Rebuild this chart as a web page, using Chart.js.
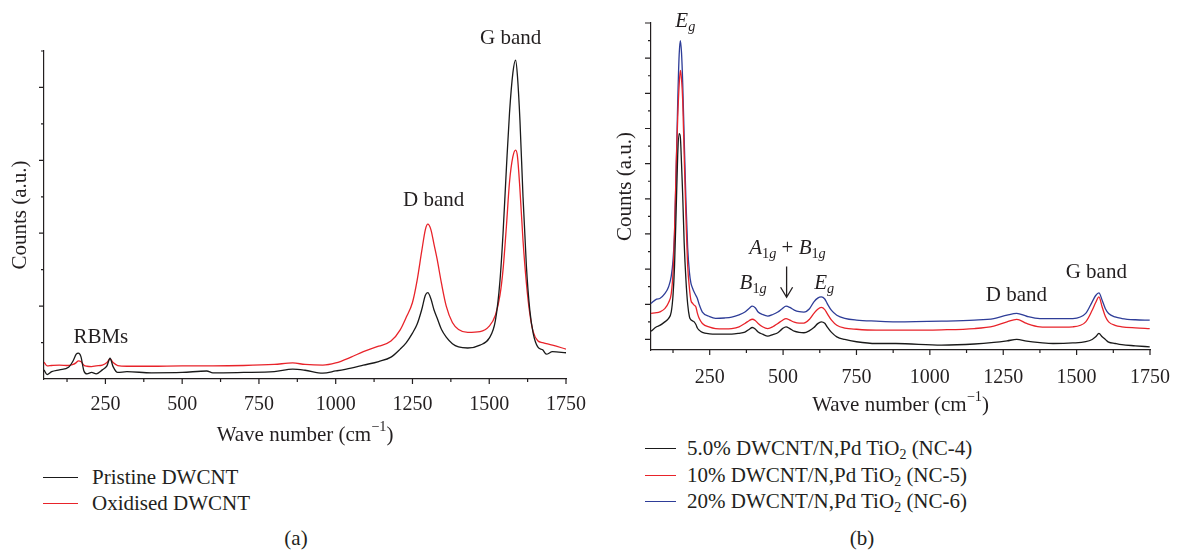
<!DOCTYPE html>
<html>
<head>
<meta charset="utf-8">
<script src="https://cdn.jsdelivr.net/npm/chart.js@4.4.0/dist/chart.umd.min.js"></script>
<style>
  body { margin: 0; background: #fff; width: 1186px; height: 551px; position: relative; overflow: hidden;
         font-family: "Liberation Serif", serif; color: #231f20; }
  canvas { position: absolute; top: 0; }
  .row { position: absolute; height: 26px; line-height: 26px; font-size: 21px; white-space: nowrap; }
  .row i { position: absolute; top: 13px; height: 0; border-top: 1.4px solid; }
  .row span { position: absolute; }
  .cap { position: absolute; font-size: 21px; transform: translate(-50%, -50%); }
</style>
</head>
<body>
<canvas id="chartA" width="600" height="460" style="left:0"></canvas>
<canvas id="chartB" width="586" height="420" style="left:600px"></canvas>
<div class="cap" style="left:296px; top:538px">(a)</div>
<div class="cap" style="left:862px; top:538px">(b)</div>
<script>
// panel (a): Raman spectra of DWCNT
var waveA = [50, 60, 75, 100, 130, 145, 155, 162, 170, 180, 190, 205, 220, 240, 255, 265, 275, 290, 320,
  400, 500, 580, 600, 700, 800, 860, 900, 958, 1000, 1050, 1090, 1140, 1180, 1210, 1230, 1250, 1265, 1280,
  1292, 1300, 1310, 1320, 1330, 1345, 1360, 1380, 1400, 1430, 1470, 1500, 1520, 1535, 1545, 1556, 1566,
  1577, 1586, 1592, 1600, 1610, 1621, 1632, 1643, 1658, 1674, 1686, 1706, 1750];
var pristine = [0.25, 0.12, 0.2, 0.25, 0.32, 0.5, 0.68, 0.71, 0.62, 0.22, 0.14, 0.18, 0.14, 0.25, 0.36, 0.57,
  0.34, 0.18, 0.2, 0.17, 0.18, 0.22, 0.17, 0.18, 0.2, 0.27, 0.24, 0.16, 0.22, 0.3, 0.38, 0.48, 0.6, 0.82,
  1.0, 1.26, 1.5, 1.9, 2.3, 2.37, 2.2, 1.9, 1.68, 1.35, 1.15, 0.97, 0.88, 0.85, 0.93, 1.12, 1.6, 2.7, 4.0,
  5.8, 7.3, 8.4, 8.75, 8.3, 7.1, 5.0, 3.1, 1.9, 1.26, 0.88, 0.8, 0.68, 0.75, 0.72];
var oxidised = [0.46, 0.36, 0.37, 0.38, 0.37, 0.4, 0.45, 0.5, 0.48, 0.38, 0.35, 0.34, 0.36, 0.38, 0.45, 0.55,
  0.45, 0.37, 0.35, 0.35, 0.36, 0.36, 0.36, 0.37, 0.4, 0.44, 0.4, 0.38, 0.44, 0.6, 0.75, 0.9, 1.04, 1.35,
  1.7, 2.1, 2.7, 3.5, 4.1, 4.25, 4.1, 3.7, 3.3, 2.6, 2.0, 1.55, 1.36, 1.28, 1.3, 1.45, 1.75, 2.3, 3.0, 4.2,
  5.4, 6.1, 6.28, 6.1, 5.2, 3.8, 2.63, 1.8, 1.3, 1.05, 1.0, 0.97, 0.93, 0.82];
var namesA = ['Pristine DWCNT', 'Oxidised DWCNT'];
var colorsA = ['#1a1a1a', '#e8232a'];

// panel (b): DWCNT/N,Pd TiO2 nanocomposites
var waveB = [50, 69, 80, 97, 110, 119, 125, 130, 136, 141, 146, 150, 154, 158, 163, 169, 175, 181, 186, 192,
  197, 203, 208, 214, 225, 250, 270, 300, 325, 350, 370, 385, 395, 405, 415, 430, 448, 465, 482, 497, 510,
  523, 538, 555, 571, 590, 605, 618, 630, 642, 650, 665, 683, 710, 750, 817, 884, 1040, 1152, 1218, 1263,
  1296, 1330, 1375, 1420, 1487, 1531, 1553, 1565, 1576, 1587, 1598, 1609, 1631, 1654, 1700, 1749];
var nc4 = [0.47, 0.72, 0.8, 1.0, 1.2, 1.57, 2.5, 4.1, 7.5, 10.5, 11.7, 11.5, 10.0, 8.2, 5.5, 3.4, 2.0, 1.28,
  1.12, 1.05, 1.0, 0.85, 0.65, 0.53, 0.4, 0.32, 0.3, 0.3, 0.3, 0.35, 0.42, 0.58, 0.68, 0.6, 0.42, 0.3, 0.19,
  0.28, 0.38, 0.6, 0.72, 0.62, 0.47, 0.4, 0.38, 0.5, 0.68, 0.9, 1.0, 0.92, 0.72, 0.4, 0.15, 0.0, -0.13,
  -0.23, -0.23, -0.32, -0.26, -0.17, -0.08, 0.0, -0.1, -0.18, -0.23, -0.2, -0.13, 0.0, 0.15, 0.34, 0.15,
  0.0, -0.15, -0.23, -0.3, -0.36, -0.42];
var nc5 = [1.48, 1.52, 1.57, 1.75, 2.1, 2.61, 3.8, 6.0, 10.0, 12.6, 14.5, 15.3, 14.8, 13.6, 10.5, 7.0, 4.2,
  2.9, 2.23, 2.05, 1.95, 1.85, 1.5, 1.2, 0.91, 0.7, 0.62, 0.6, 0.62, 0.72, 0.91, 1.08, 1.15, 1.08, 0.91,
  0.72, 0.62, 0.72, 0.91, 1.08, 1.19, 1.1, 0.98, 0.93, 0.93, 1.15, 1.48, 1.72, 1.82, 1.7, 1.48, 1.1, 0.81,
  0.65, 0.58, 0.53, 0.53, 0.55, 0.62, 0.76, 1.0, 1.14, 0.91, 0.72, 0.7, 0.72, 1.0, 1.66, 2.1, 2.42, 1.85,
  1.3, 1.0, 0.8, 0.72, 0.66, 0.62];
var nc6 = [2.05, 2.29, 2.33, 2.6, 3.0, 3.6, 4.5, 6.0, 9.8, 13.5, 16.2, 17.0, 16.3, 14.6, 11.5, 7.9, 5.2, 3.8,
  3.2, 2.9, 2.7, 2.5, 2.33, 2.0, 1.56, 1.3, 1.2, 1.22, 1.27, 1.4, 1.56, 1.78, 1.89, 1.8, 1.56, 1.42, 1.33,
  1.42, 1.56, 1.75, 1.89, 1.82, 1.67, 1.58, 1.56, 1.75, 2.14, 2.35, 2.42, 2.3, 2.05, 1.65, 1.38, 1.2, 1.1,
  1.04, 1.0, 1.04, 1.1, 1.19, 1.38, 1.48, 1.32, 1.19, 1.18, 1.19, 1.48, 2.14, 2.5, 2.65, 2.23, 1.75, 1.48,
  1.28, 1.19, 1.12, 1.1];
var namesB = ['5.0% DWCNT/N,Pd TiO2 (NC-4)', '10% DWCNT/N,Pd TiO2 (NC-5)', '20% DWCNT/N,Pd TiO2 (NC-6)'];
var colorsB = ['#1a1a1a', '#e8232a', '#2e3d98'];

// axis ticks
var xTicks = [125, 250, 375, 500, 625, 750, 875, 1000, 1125, 1250, 1375, 1500, 1625, 1750];
var xLabels = [250, 500, 750, 1000, 1250, 1500, 1750];
var yTicksA = [1, 2, 3, 4, 5, 6, 7, 8, 9];
var yTicksB = [0, 1, 2, 3, 4, 5, 6, 7, 8, 9, 10, 11, 12, 13, 14, 15, 16, 17, 18];

var INK = '#231f20';
var FONT = '"Liberation Serif", serif';
Chart.defaults.font.family = FONT;

function richText(ctx, parts, cx, cy, size) {
  var w = 0;
  var items = parts.map(function (p) {
    var s = (p.sub || p.sup) ? size * 0.68 : size;
    var f = (p.it ? 'italic ' : '') + s + 'px ' + FONT;
    ctx.font = f;
    var pw = ctx.measureText(p.t).width;
    w += pw;
    return { p: p, f: f, w: pw, dy: p.sub ? size * 0.3 : (p.sup ? -size * 0.36 : 0) };
  });
  var x = cx - w / 2;
  ctx.textAlign = 'left';
  ctx.textBaseline = 'middle';
  items.forEach(function (it) {
    ctx.font = it.f;
    ctx.fillText(it.p.t, x, cy + it.dy);
    x += it.w;
  });
}

var xTitle = [{ t: 'Wave number (cm' }, { t: '\u22121', sup: true }, { t: ')' }];

function makeDecor(cfg) {
  return {
    id: 'decor',
    afterDraw: function (chart) {
      var ctx = chart.ctx, a = chart.chartArea, x = chart.scales.x, y = chart.scales.y;
      ctx.save();
      ctx.strokeStyle = INK;
      ctx.lineWidth = 1.2;
      ctx.beginPath();
      xTicks.forEach(function (v) {
        var px = x.getPixelForValue(v);
        var len = xLabels.indexOf(v) >= 0 ? 5 : 3;
        ctx.moveTo(px, a.bottom); ctx.lineTo(px, a.bottom + len);
      });
      cfg.yTicks.forEach(function (v) {
        var py = y.getPixelForValue(v);
        var len = v % 2 === 0 ? cfg.majorLen : 3;
        ctx.moveTo(a.left - len, py); ctx.lineTo(a.left, py);
      });
      ctx.stroke();

      ctx.fillStyle = INK;
      cfg.notes.forEach(function (n) {
        richText(ctx, n.parts, x.getPixelForValue(n.x), y.getPixelForValue(n.y), 21);
      });
      if (cfg.arrow) {
        var ax = x.getPixelForValue(cfg.arrow.x);
        var y0 = y.getPixelForValue(cfg.arrow.from), y1 = y.getPixelForValue(cfg.arrow.to);
        ctx.lineWidth = 1.3;
        ctx.beginPath();
        ctx.moveTo(ax, y0); ctx.lineTo(ax, y1);
        ctx.moveTo(ax - 6, y1 - 10); ctx.lineTo(ax, y1); ctx.lineTo(ax + 6, y1 - 10);
        ctx.stroke();
      }
      richText(ctx, xTitle, (a.left + a.right) / 2, cfg.xTitleY, 21);
      ctx.translate(cfg.yTitleX, (a.top + a.bottom) / 2);
      ctx.rotate(-Math.PI / 2);
      richText(ctx, [{ t: 'Counts (a.u.)' }], 0, 0, 21);
      ctx.restore();
    }
  };
}

function series(wave, vals, name, color) {
  return {
    label: name,
    data: wave.map(function (w, i) { return { x: w, y: vals[i] }; }),
    borderColor: color,
    borderWidth: 1.3,
    pointRadius: 0,
    cubicInterpolationMode: 'monotone',
    fill: false
  };
}

function makeChart(id, datasets, pad, yMin, yMax, xH, yW, labelPad, decor) {
  return new Chart(document.getElementById(id), {
    type: 'line',
    data: { datasets: datasets },
    options: {
      responsive: false,
      animation: false,
      events: [],
      layout: { padding: pad },
      plugins: { legend: { display: false }, tooltip: { enabled: false } },
      scales: {
        x: {
          type: 'linear', min: 50, max: 1750,
          afterBuildTicks: function (s) { s.ticks = xTicks.map(function (v) { return { value: v }; }); },
          afterFit: function (s) { s.height = xH; },
          ticks: {
            autoSkip: false, maxRotation: 0, padding: labelPad, color: INK,
            font: { family: FONT, size: 20 },
            callback: function (v) { return xLabels.indexOf(v) >= 0 ? String(v) : ''; }
          },
          grid: { display: false, drawTicks: false },
          border: { display: true, color: INK, width: 1.2 }
        },
        y: {
          min: yMin, max: yMax,
          afterFit: function (s) { s.width = yW; },
          ticks: { display: false },
          grid: { display: false, drawTicks: false },
          border: { display: true, color: INK, width: 1.2 }
        }
      }
    },
    plugins: [decor]
  });
}

makeChart('chartA',
  [series(waveA, pristine, namesA[0], colorsA[0]), series(waveA, oxidised, namesA[1], colorsA[1])],
  { top: 51, right: 33, left: 0, bottom: 0 }, 0, 9, 81, 44, 14,
  makeDecor({
    yTicks: yTicksA, majorLen: 5, xTitleY: 435, yTitleX: 20,
    notes: [
      { x: 235, y: 1.13, parts: [{ t: 'RBMs' }] },
      { x: 1319, y: 4.91, parts: [{ t: 'D band' }] },
      { x: 1570, y: 9.33, parts: [{ t: 'G band' }] }
    ]
  }));

makeChart('chartB',
  [series(waveB, nc4, namesB[0], colorsB[0]), series(waveB, nc5, namesB[1], colorsB[1]),
   series(waveB, nc6, namesB[2], colorsB[2])],
  { top: 23, right: 28, left: 0, bottom: 0 }, -0.6, 18, 70, 51, 16,
  makeDecor({
    yTicks: yTicksB, majorLen: 6, xTitleY: 405, yTitleX: 25,
    arrow: { x: 512, from: 4.15, to: 2.4 },
    notes: [
      { x: 167, y: 18.1, parts: [{ t: 'E', it: true }, { t: 'g', it: true, sub: true }] },
      { x: 515, y: 5.2, parts: [{ t: 'A', it: true }, { t: '1', sub: true }, { t: 'g', it: true, sub: true },
        { t: ' + ' }, { t: 'B', it: true }, { t: '1', sub: true }, { t: 'g', it: true, sub: true }] },
      { x: 398, y: 3.2, parts: [{ t: 'B', it: true }, { t: '1', sub: true }, { t: 'g', it: true, sub: true }] },
      { x: 640, y: 3.2, parts: [{ t: 'E', it: true }, { t: 'g', it: true, sub: true }] },
      { x: 1295, y: 2.5, parts: [{ t: 'D band' }] },
      { x: 1567, y: 3.8, parts: [{ t: 'G band' }] }
    ]
  }));

// legends below each panel
function legend(names, colors, lineX, lineW, textX, rowY, step) {
  names.forEach(function (n, i) {
    var row = document.createElement('div');
    row.className = 'row';
    row.style.left = lineX + 'px';
    row.style.top = (rowY + i * step - 13) + 'px';
    var line = document.createElement('i');
    line.style.left = '0px';
    line.style.width = lineW + 'px';
    line.style.borderColor = colors[i];
    var txt = document.createElement('span');
    txt.style.left = (textX - lineX) + 'px';
    txt.innerHTML = n.replace('TiO2', 'TiO<sub style="font-size:14px;vertical-align:-4px">2</sub>');
    row.appendChild(line);
    row.appendChild(txt);
    document.body.appendChild(row);
  });
}
legend(namesA, colorsA, 43, 35, 92, 477, 26);
legend(namesB, colorsB, 645, 31, 687, 448, 26.5);
</script>
</body>
</html>
